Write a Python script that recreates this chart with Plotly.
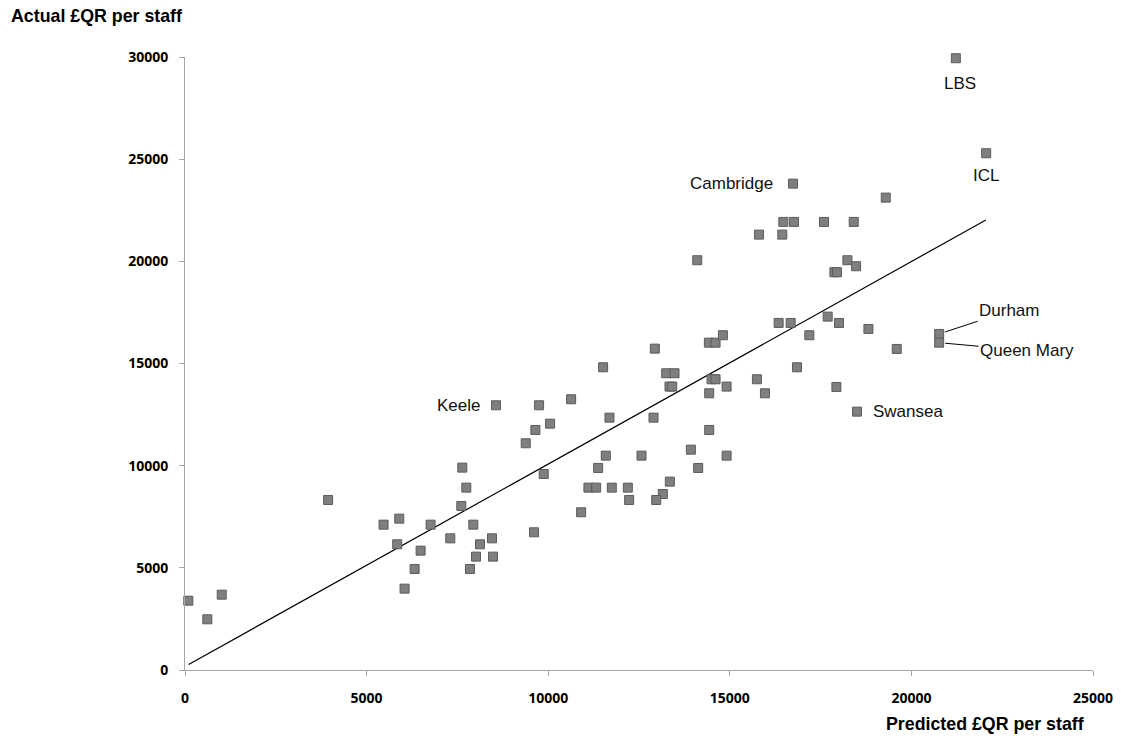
import plotly.graph_objects as go

# Predicted vs actual QR per staff
predicted = [91, 615, 1011, 3941, 5467, 5899, 5843, 6322, 6046, 6487, 6762, 7304, 7635, 7745,
             7607, 7938, 8122, 8452, 8012, 7846, 8480, 8563, 9749, 10631, 9647, 10052, 9381,
             11687, 12900, 14433, 13928, 14912, 12569, 11585, 11375, 14130, 9877, 11108, 11320,
             11751, 12192, 13349, 13156, 12229, 12974, 10907, 9611, 12936, 11512, 13249, 13478,
             13340, 13415, 14498, 14608, 14912, 14433, 15747, 15968, 16850, 14424, 14608, 14810,
             16740, 19294, 16474, 16767, 17594, 18412, 15805, 16446, 14104, 18238, 18477, 17880,
             17950, 16345, 16676, 17695, 18007, 18817, 17190, 19597, 17935, 18503, 21224, 22059,
             20764, 20764]
actual = [3392, 2481, 3686, 8321, 7113, 7407, 6152, 4944, 3981, 5841, 7113, 6444, 9904, 8925,
          8027, 7113, 6152, 6444, 5548, 4944, 5548, 12956, 12956, 13250, 11747, 12056, 11096,
          12350, 12350, 11747, 10783, 10490, 10490, 10490, 9887, 9887, 9594, 8925, 8925,
          8925, 8925, 9219, 8615, 8321, 8321, 7719, 6740, 15727, 14814, 14523, 14523,
          13870, 13870, 14229, 14229, 13870, 13543, 14229, 13543, 14814, 16020, 16020, 16383,
          23803, 23118, 21929, 21929, 21929, 21929, 21308, 21308, 20054, 20054, 19760, 19467,
          19467, 16985, 16985, 17295, 16985, 16691, 16383, 15712, 13852, 12644, 29941, 25291,
          16447, 16020]

# Labelled institutions: (name, predicted, actual)
label_names = ["Keele", "Cambridge", "LBS", "ICL", "Swansea", "Durham", "Queen Mary"]
label_pred = [8563, 16740, 21224, 22059, 18503, 20764, 20764]
label_act = [12956, 23803, 29941, 25291, 12644, 16447, 16020]

# Trend line
trend_slope = 0.991
trend_intercept = 170
trend_x = [100, 22050]

x_ticks = [0, 5000, 10000, 15000, 20000, 25000]
y_ticks = [0, 5000, 10000, 15000, 20000, 25000, 30000]

fig = go.Figure()
fig.add_trace(go.Scatter(
    x=trend_x, y=[trend_intercept + trend_slope * v for v in trend_x],
    mode="lines", line=dict(color="#000000", width=1.2), hoverinfo="skip", showlegend=False))
fig.add_trace(go.Scatter(
    x=predicted, y=actual, mode="markers", cliponaxis=False,
    marker=dict(symbol="square", size=9, color="#7f7f7f", line=dict(color="#5c5c5c", width=1)),
    showlegend=False))

label_font = dict(family="Liberation Sans, Arial, sans-serif", size=17, color="#111111")
placements = {
    "Keele": dict(xanchor="right", yanchor="middle", xshift=-14, yshift=0, showarrow=False),
    "Cambridge": dict(xanchor="right", yanchor="middle", xshift=-18, yshift=0, showarrow=False),
    "LBS": dict(xanchor="center", yanchor="middle", xshift=4, yshift=-25, showarrow=False),
    "ICL": dict(xanchor="center", yanchor="middle", xshift=0, yshift=-22, showarrow=False),
    "Swansea": dict(xanchor="left", yanchor="middle", xshift=14, yshift=0, showarrow=False),
    "Durham": dict(showarrow=True, ax=70, ay=-23, arrowhead=0, arrowwidth=1,
                   arrowcolor="#000000", standoff=6),
    "Queen Mary": dict(showarrow=True, ax=88, ay=8, arrowhead=0, arrowwidth=1,
                       arrowcolor="#000000", standoff=6),
}
for name, px, py in zip(label_names, label_pred, label_act):
    fig.add_annotation(x=px, y=py, xref="x", yref="y", text=name, font=label_font,
                       **placements[name])

title_font = dict(family="Liberation Sans, Arial, sans-serif", size=17.8, color="#000000",
                  weight="bold")
fig.add_annotation(text="Actual £QR per staff", xref="paper", yref="paper",
                   x=-176 / 908, y=1 + 41 / 613, xanchor="left", yanchor="middle",
                   showarrow=False, font=title_font)
fig.add_annotation(text="Predicted £QR per staff", xref="paper", yref="paper",
                   x=1 - 7 / 908, y=-54 / 613, xanchor="right", yanchor="middle",
                   showarrow=False, font=title_font)

tick_font = dict(family="Open Sans, sans-serif", size=14, color="#000000", weight="bold")
axis_common = dict(showgrid=False, zeroline=False, showline=True, linecolor="#a6a6a6",
                   linewidth=1, ticks="outside", ticklen=5, tickcolor="#a6a6a6",
                   tickwidth=1, tickfont=tick_font, automargin=False)
fig.update_xaxes(range=[0, 25000], tickvals=x_ticks, ticktext=[str(v) for v in x_ticks],
                 ticklabelstandoff=10, **axis_common)
fig.update_yaxes(range=[0, 30000], tickvals=y_ticks, ticktext=[str(v) for v in y_ticks],
                 ticklabelstandoff=8, **axis_common)

fig.update_layout(template="none", width=1121, height=738,
                  margin=dict(l=185, r=28, t=57, b=68, pad=0),
                  plot_bgcolor="#ffffff", paper_bgcolor="#ffffff", hovermode=False)

fig.write_html("out.html", config={"displayModeBar": False},
               post_script="document.body.style.margin='0';")
